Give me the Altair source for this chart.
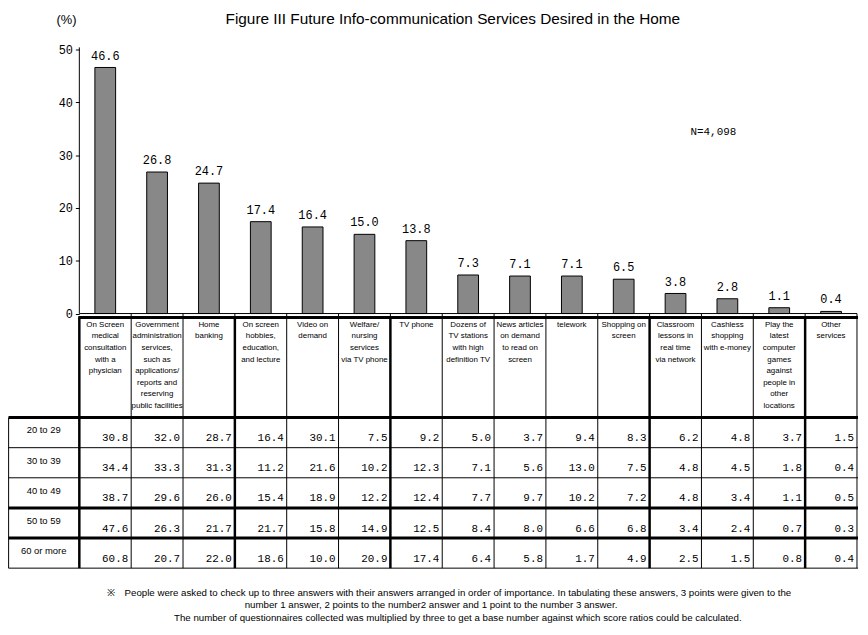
import altair as alt
import pandas as pd

# ---------------- data ----------------
header_labels = [
    "On Screen\nmedical\nconsultation\nwith a\nphysician",
    "Government\nadministration\nservices,\nsuch as\napplications/\nreports and\nreserving\npublic facilities",
    "Home\nbanking",
    "On screen\nhobbies,\neducation,\nand lecture",
    "Video on\ndemand",
    "Welfare/\nnursing\nservices\nvia TV phone",
    "TV phone",
    "Dozens of\nTV stations\nwith high\ndefinition TV",
    "News articles\non demand\nto read on\nscreen",
    "telework",
    "Shopping on\nscreen",
    "Classroom\nlessons in\nreal time\nvia network",
    "Cashless\nshopping\nwith e-money",
    "Play the\nlatest\ncomputer\ngames\nagainst\npeople in\nother\nlocations",
    "Other\nservices",
]
overall = [46.6, 26.8, 24.7, 17.4, 16.4, 15.0, 13.8, 7.3, 7.1, 7.1, 6.5, 3.8, 2.8, 1.1, 0.4]

age_groups = ["20 to 29", "30 to 39", "40 to 49", "50 to 59", "60 or more"]
age_20s = [30.8, 32.0, 28.7, 16.4, 30.1, 7.5, 9.2, 5.0, 3.7, 9.4, 8.3, 6.2, 4.8, 3.7, 1.5]
age_30s = [34.4, 33.3, 31.3, 11.2, 21.6, 10.2, 12.3, 7.1, 5.6, 13.0, 7.5, 4.8, 4.5, 1.8, 0.4]
age_40s = [38.7, 29.6, 26.0, 15.4, 18.9, 12.2, 12.4, 7.7, 9.7, 10.2, 7.2, 4.8, 3.4, 1.1, 0.5]
age_50s = [47.6, 26.3, 21.7, 21.7, 15.8, 14.9, 12.5, 8.4, 8.0, 6.6, 6.8, 3.4, 2.4, 0.7, 0.3]
age_60p = [60.8, 20.7, 22.0, 18.6, 10.0, 20.9, 17.4, 6.4, 5.8, 1.7, 4.9, 2.5, 1.5, 0.8, 0.4]
age_rows = [age_20s, age_30s, age_40s, age_50s, age_60p]

y_ticks = [0, 10, 20, 30, 40, 50]

title_text = "Figure III Future Info-communication Services Desired in the Home"
n_text = "N=4,098"
foot1 = "\u203b\u3000People were asked to check up to three answers with their answers arranged in order of importance. In tabulating these answers, 3 points were given to the"
foot2 = "number 1 answer, 2 points to the number2 answer and 1 point to the number 3 answer."
foot3 = "The number of questionnaires collected was multiplied by three to get a base number against which score ratios could be calculated."

# ---------------- layout ----------------
W, H = 860, 619
PX_X = 52.33          # pixels per column
PX_Y = 5.33           # pixels per percent
X_MIN = (8 - 80) / PX_X
X_MAX = X_MIN + W / PX_X
Y_MAX = (313.5 - 8) / PX_Y
Y_MIN = Y_MAX - H / PX_Y
NCOL = len(overall)


def yv(page_y):
    return (313.5 - page_y) / PX_Y


HEAD_TOP_PX = 317.5
HEAD_BOT_PX = 418.5
ROW_PX = 30.4
THICK_V = {0, 3, 6, 11, 14}
THICK_H_ROWS = {0, 3, 4}   # row top borders drawn thick

xs = alt.Scale(domain=[X_MIN, X_MAX], nice=False, zero=False)
ys = alt.Scale(domain=[Y_MIN, Y_MAX], nice=False, zero=False)
MONO = "Liberation Mono"
SANS = "Liberation Sans"

y_axis = alt.Axis(
    values=y_ticks, offset=-72, domain=False, grid=False, title=None,
    tickSize=4, tickColor="black", labelColor="black", labelFont=MONO,
    labelFontSize=12, labelPadding=3)


def X(f):
    return alt.X(f, scale=xs, axis=None)


def Y(f):
    return alt.Y(f, scale=ys, axis=y_axis)


# ---------------- bars ----------------
bars_df = pd.DataFrame({
    "i": range(NCOL),
    "v": overall,
})
bars_df["x1"] = bars_df["i"] + 0.3
bars_df["x2"] = bars_df["i"] + 0.7
bars_df["xc"] = bars_df["i"] + 0.5
bars_df["lab"] = [f"{v:.1f}" for v in overall]

bars = alt.Chart(bars_df).mark_bar(color="#888888", stroke="black", strokeWidth=1).encode(
    x=X("x1:Q"), x2="x2:Q", y=Y("v:Q"), y2=alt.datum(0),
)
bar_labels = alt.Chart(bars_df).mark_text(
    baseline="bottom", dy=-5, font=MONO, fontSize=12, color="black"
).encode(x=X("xc:Q"), y=Y("v:Q"), text="lab:N")

# ---------------- lines ----------------
lines = []
lines.append(dict(x1=0, x2=0, y1=0, y2=50.4, w=1))          # y-axis line
lines.append(dict(x1=0, x2=NCOL, y1=0, y2=0, w=1))          # baseline
for i in range(1, NCOL + 1):                                 # boundary ticks
    lines.append(dict(x1=i, x2=i, y1=0, y2=yv(316.5), w=1))
lines.append(dict(x1=-0.02, x2=NCOL + 0.02, y1=yv(HEAD_TOP_PX), y2=yv(HEAD_TOP_PX), w=3))
row_tops = [HEAD_BOT_PX + r * ROW_PX for r in range(len(age_groups) + 1)]
for r, py in enumerate(row_tops):
    lines.append(dict(x1=X_MIN + 0.01, x2=NCOL + 0.02, y1=yv(py), y2=yv(py),
                      w=3 if r in THICK_H_ROWS else 1))
for i in range(NCOL + 1):
    lines.append(dict(x1=i, x2=i, y1=yv(HEAD_TOP_PX), y2=yv(row_tops[-1]),
                      w=2.5 if i in THICK_V else 1))
lines.append(dict(x1=X_MIN + 0.012, x2=X_MIN + 0.012, y1=yv(HEAD_BOT_PX), y2=yv(row_tops[-1]), w=1))
lines_df = pd.DataFrame(lines)

rules = alt.Chart(lines_df).mark_rule(color="black").encode(
    x=X("x1:Q"), x2="x2:Q", y=Y("y1:Q"), y2="y2:Q",
    strokeWidth=alt.StrokeWidth("w:Q", scale=None, legend=None),
)

# ---------------- header labels ----------------
head_df = pd.DataFrame({"xc": [i + 0.5 for i in range(NCOL)], "t": header_labels})
head_df["y"] = yv(321)
head = alt.Chart(head_df).mark_text(
    align="center", baseline="top", font=SANS, fontSize=8, lineBreak="\n",
    lineHeight=11.7, color="black"
).encode(x=X("xc:Q"), y=Y("y:Q"), text="t:N")

# ---------------- table cells ----------------
cells = []
for r, vals in enumerate(age_rows):
    for i, v in enumerate(vals):
        cells.append(dict(x=i + 1, y=yv(row_tops[r + 1] - 6.5), t=f"{v:.1f}"))
cells_df = pd.DataFrame(cells)
cell_text = alt.Chart(cells_df).mark_text(
    align="right", baseline="alphabetic", dx=-3, font=MONO, fontSize=11, color="black"
).encode(x=X("x:Q"), y=Y("y:Q"), text="t:N")

ages_df = pd.DataFrame({
    "x": [X_MIN / 2] * len(age_groups),
    "y": [yv(t + 13) for t in row_tops[:-1]],
    "t": age_groups,
})
age_text = alt.Chart(ages_df).mark_text(
    align="center", baseline="middle", font=SANS, fontSize=9.5, color="black"
).encode(x=X("x:Q"), y=Y("y:Q"), text="t:N")


# ---------------- annotations ----------------
def note(txt, px, py, size, font=SANS, align="center"):
    return alt.Chart(pd.DataFrame({"t": [txt]})).mark_text(
        align=align, baseline="middle", font=font, fontSize=size, color="black"
    ).encode(x=alt.value(px - 8), y=alt.value(py - 8), text="t:N")


annots = [
    note(title_text, 457, 16, 15.5),
    note("(%)", 67, 17, 13),
    note(n_text, 720, 130, 11, font=MONO),
    note(foot1, 453, 596, 9.8),
    note(foot2, 435, 608, 9.8),
    note(foot3, 462, 621, 9.8),
]

chart = alt.layer(bars, rules, bar_labels, head, cell_text, age_text, *annots).properties(
    width=W, height=H,
    autosize=alt.AutoSizeParams(type="none"),
    padding=0,
    background="white",
).configure_view(stroke=None)

chart.save("out.html", embed_options={"renderer": "svg", "actions": False})
